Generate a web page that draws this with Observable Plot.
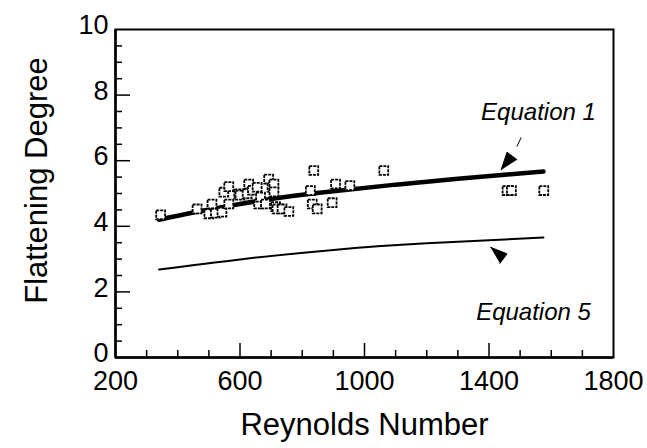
<!DOCTYPE html>
<html>
<head>
<meta charset="utf-8">
<script src="https://cdn.jsdelivr.net/npm/d3@7"></script>
<script src="https://cdn.jsdelivr.net/npm/@observablehq/plot@0.6"></script>
<style>
  html, body { margin: 0; padding: 0; background: #fff; }
</style>
</head>
<body>
<div id="chart"></div>
<script>
// Measured data points (Reynolds number, flattening degree)
const reynolds = [345, 462, 500, 510, 521, 542, 548, 564, 564, 596, 600, 623, 628, 640, 655, 660, 666, 682, 692, 703, 709, 709, 714, 719, 735, 757, 826, 832, 837, 848, 896, 907, 953, 1062, 1458, 1472, 1576];
const flattening = [4.35, 4.53, 4.38, 4.68, 4.40, 4.43, 5.04, 4.68, 5.21, 4.99, 4.95, 4.99, 5.29, 5.10, 5.19, 4.68, 4.89, 4.68, 5.44, 5.19, 5.29, 5.05, 4.60, 4.53, 4.53, 4.45, 5.09, 4.68, 5.70, 4.53, 4.72, 5.29, 5.24, 5.70, 5.09, 5.09, 5.09];

// Equation 1 curve
const eq1Re = [340, 450, 600, 750, 900, 1100, 1300, 1450, 1575];
const eq1F  = [4.20, 4.42, 4.68, 4.90, 5.07, 5.27, 5.45, 5.57, 5.67];
// Equation 5 curve
const eq5Re = [340, 600, 900, 1200, 1575];
const eq5F  = [2.68, 2.99, 3.28, 3.48, 3.66];

// Annotations
const labels = ["Equation 1", "Equation 5"];
const labelRe = [1559, 1543];
const labelF = [7.47, 1.37];
const arrow1ShaftRe = [1503, 1490];
const arrow1ShaftF = [6.70, 6.44];
const arrow1HeadRe = [1439, 1458, 1490];
const arrow1HeadF = [5.72, 6.26, 6.03];
const arrow5HeadRe = [1405, 1458, 1435];
const arrow5HeadF = [3.36, 3.16, 2.87];

// Axes
const xTickLabels = [200, 600, 1000, 1400, 1800];
const xMajor = [600, 1000, 1400];
const xMinor = [300, 400, 500, 700, 800, 900, 1100, 1200, 1300, 1500, 1600, 1700];
const yTickLabels = [0, 2, 4, 6, 8, 10];
const yMajor = [2, 4, 6, 8];
const yMinor = [0.5, 1, 1.5, 2.5, 3, 3.5, 4.5, 5, 5.5, 6.5, 7, 7.5, 8.5, 9, 9.5];
const xTitle = "Reynolds Number";
const yTitle = "Flattening Degree";

const pts = reynolds.map((r, i) => ({r, f: flattening[i]}));
const eq1 = eq1Re.map((r, i) => ({r, f: eq1F[i]}));
const eq5 = eq5Re.map((r, i) => ({r, f: eq5F[i]}));
const lab = labels.map((t, i) => ({t, r: labelRe[i], f: labelF[i]}));
const shaft1 = arrow1ShaftRe.map((r, i) => ({r, f: arrow1ShaftF[i]}));
const head1 = arrow1HeadRe.map((r, i) => ({r, f: arrow1HeadF[i]}));
const head5 = arrow5HeadRe.map((r, i) => ({r, f: arrow5HeadF[i]}));

const fmt = d => String(d);

const chart = Plot.plot({
  width: 647,
  height: 448,
  marginLeft: 115,
  marginRight: 34,
  marginTop: 29,
  marginBottom: 91,
  style: {fontFamily: "'Liberation Sans', Arial, sans-serif", background: "#fff", color: "#000"},
  x: {domain: [200, 1800]},
  y: {domain: [0, 10]},
  marks: [
    Plot.axisX({ticks: xTickLabels, tickSize: 0, tickPadding: 13, fontSize: 27, tickFormat: fmt, label: null}),
    Plot.axisX({ticks: xMajor, tickSize: -14, tickFormat: () => "", label: null, strokeWidth: 1.5}),
    Plot.axisX({ticks: xMinor, tickSize: -7, tickFormat: () => "", label: null, strokeWidth: 1.5}),
    Plot.axisY({ticks: yTickLabels, tickSize: 0, tickPadding: 7, dy: -4, fontSize: 27, tickFormat: fmt, label: null}),
    Plot.axisY({ticks: yMajor, tickSize: -15, tickFormat: () => "", label: null, strokeWidth: 1.5}),
    Plot.axisY({ticks: yMinor, tickSize: -7, tickFormat: () => "", label: null, strokeWidth: 1.5}),
    Plot.frame({stroke: "#000", strokeWidth: 2}),
    Plot.ruleX([200], {stroke: "#000", strokeWidth: 2.5}),
    Plot.ruleY([0], {stroke: "#000", strokeWidth: 2.5}),
    Plot.text([xTitle], {frameAnchor: "bottom", dy: 68, fontSize: 31, textAnchor: "middle", lineAnchor: "middle"}),
    Plot.text([yTitle], {frameAnchor: "left", rotate: -90, dx: -78, dy: -13, fontSize: 31, textAnchor: "middle", lineAnchor: "middle"}),
    Plot.line(eq1, {x: "r", y: "f", stroke: "#000", strokeWidth: 4.5, curve: "natural"}),
    Plot.line(eq5, {x: "r", y: "f", stroke: "#000", strokeWidth: 2, curve: "natural"}),
    Plot.dot(pts, {x: "r", y: "f", symbol: "square", r: 5, fill: "#fff", stroke: "#000", strokeWidth: 1.8, strokeDasharray: "3,1"}),
    Plot.text(lab, {x: "r", y: "f", text: "t", fontSize: 24, fontStyle: "italic", textAnchor: "middle"}),
    Plot.line(shaft1, {x: "r", y: "f", stroke: "#000", strokeWidth: 1}),
    Plot.line(head1, {x: "r", y: "f", fill: "#000", stroke: "#000", strokeWidth: 1}),
    Plot.line(head5, {x: "r", y: "f", fill: "#000", stroke: "#000", strokeWidth: 1})
  ]
});
document.getElementById("chart").appendChild(chart);
</script>
</body>
</html>
